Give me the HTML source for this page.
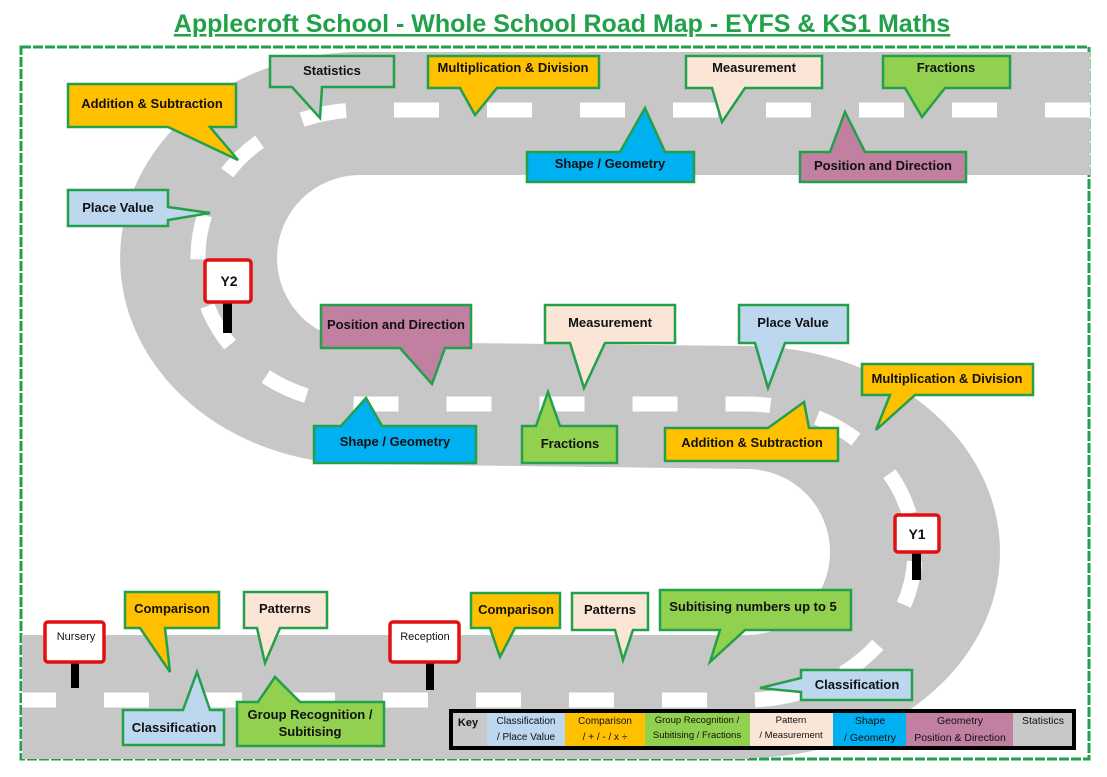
<!DOCTYPE html>
<html><head><meta charset="utf-8"><style>
html,body{margin:0;padding:0;background:#fff;}
svg{display:block;}
text{font-family:"Comic Sans MS","Liberation Sans",sans-serif;font-weight:bold;font-size:13px;fill:#111;}
</style></head><body>
<svg width="1107" height="777" viewBox="0 0 1107 777" xmlns="http://www.w3.org/2000/svg">
<text x="562" y="32" text-anchor="middle" style="font-size:25px;fill:#22a04a;text-decoration:underline">Applecroft School - Whole School Road Map - EYFS &amp; KS1 Maths</text>
<rect x="21" y="47" width="1068" height="712" fill="none" stroke="#22a04a" stroke-width="3" stroke-dasharray="10 2"/>
<!-- road -->
<g fill="#c7c7c7">
<rect x="358" y="52" width="732" height="123"/>
<path d="M360 52 A240 206 0 0 0 360 464 L360 341 A83 83 0 0 1 360 175 Z"/>
<path d="M358 342 L749 346 L749 469 L358 464 Z"/>
<path d="M747 346 A253 206 0 0 1 747 758 L747 635 A83 83 0 0 0 747 469 Z"/>
<rect x="22" y="635" width="727" height="124"/>
</g>
<path d="M1090 110 H360 A162 147 0 0 0 360 404 H747 A168 148 0 0 1 747 700 H22" fill="none" stroke="#fff" stroke-width="15" stroke-dasharray="45 48"/>
<g stroke="#22a04a" stroke-width="2.5" stroke-linejoin="miter">
<polygon fill="#c8c8c8" points="270,56 394,56 394,87 322,87 320,118 292,87 270,87"/>
<polygon fill="#ffc000" points="428,56 599,56 599,88 497,88 475,115 460,88 428,88"/>
<polygon fill="#fbe5d6" points="686,56 822,56 822,88 745,88 722,122 712,88 686,88"/>
<polygon fill="#92d050" points="883,56 1010,56 1010,88 945,88 922,117 905,88 883,88"/>
<polygon fill="#ffc000" points="68,84 236,84 236,127 210,127 238,160 168,127 68,127"/>
<polygon fill="#00b0f0" points="527,152 620,152 645,108 665,152 694,152 694,182 527,182"/>
<polygon fill="#c17fa1" points="800,152 830,152 845,112 865,152 966,152 966,182 800,182"/>
<polygon fill="#bdd7ee" points="68,190 168,190 168,207 210,213 168,220 168,226 68,226"/>
<polygon fill="#c17fa1" points="321,305 471,305 471,348 445,348 432,384 400,348 321,348"/>
<polygon fill="#fbe5d6" points="545,305 675,305 675,343 605,343 584,388 570,343 545,343"/>
<polygon fill="#bdd7ee" points="739,305 848,305 848,343 785,343 768,388 755,343 739,343"/>
<polygon fill="#ffc000" points="862,364 1033,364 1033,395 915,395 876,430 890,395 862,395"/>
<polygon fill="#00b0f0" points="314,426 341,426 366,398 382,426 476,426 476,463 314,463"/>
<polygon fill="#92d050" points="522,426 536,426 548,392 560,426 617,426 617,463 522,463"/>
<polygon fill="#ffc000" points="665,428 768,428 804,402 809,428 838,428 838,461 665,461"/>
<polygon fill="#ffc000" points="125,592 219,592 219,628 165,628 170,672 140,628 125,628"/>
<polygon fill="#fbe5d6" points="244,592 327,592 327,628 280,628 265,663 257,628 244,628"/>
<polygon fill="#ffc000" points="471,593 560,593 560,628 515,628 500,657 490,628 471,628"/>
<polygon fill="#fbe5d6" points="572,593 648,593 648,630 633,630 623,660 615,630 572,630"/>
<polygon fill="#92d050" points="660,590 851,590 851,630 745,630 710,662 720,630 660,630"/>
<polygon fill="#bdd7ee" points="801,670 912,670 912,700 801,700 801,692 760,688 801,678"/>
<polygon fill="#bdd7ee" points="123,710 183,710 197,672 210,710 224,710 224,745 123,745"/>
<polygon fill="#92d050" points="237,702 258,702 275,677 300,702 384,702 384,746 237,746"/>
</g>
<text x="332" y="75" text-anchor="middle">Statistics</text>
<text x="513" y="72" text-anchor="middle">Multiplication &amp; Division</text>
<text x="754" y="72" text-anchor="middle">Measurement</text>
<text x="946" y="72" text-anchor="middle">Fractions</text>
<text x="152" y="108" text-anchor="middle">Addition &amp; Subtraction</text>
<text x="610" y="168" text-anchor="middle">Shape / Geometry</text>
<text x="883" y="170" text-anchor="middle">Position and Direction</text>
<text x="118" y="212" text-anchor="middle">Place Value</text>
<text x="396" y="329" text-anchor="middle">Position and Direction</text>
<text x="610" y="327" text-anchor="middle">Measurement</text>
<text x="793" y="327" text-anchor="middle">Place Value</text>
<text x="947" y="383" text-anchor="middle">Multiplication &amp; Division</text>
<text x="395" y="446" text-anchor="middle">Shape / Geometry</text>
<text x="570" y="448" text-anchor="middle">Fractions</text>
<text x="752" y="447" text-anchor="middle">Addition &amp; Subtraction</text>
<text x="172" y="613" text-anchor="middle">Comparison</text>
<text x="285" y="613" text-anchor="middle">Patterns</text>
<text x="516" y="614" text-anchor="middle">Comparison</text>
<text x="610" y="614" text-anchor="middle">Patterns</text>
<text x="753" y="611" text-anchor="middle">Subitising numbers up to 5</text>
<text x="857" y="689" text-anchor="middle">Classification</text>
<text x="174" y="732" text-anchor="middle">Classification</text>
<text x="310" y="719" text-anchor="middle">Group Recognition /</text>
<text x="310" y="736" text-anchor="middle">Subitising</text>
<!-- signs -->
<g>
<rect x="223" y="300" width="9" height="33" fill="#000"/>
<rect x="205" y="260" width="46" height="42" rx="3" fill="#fff" stroke="#e01010" stroke-width="3.5"/>
<text x="229" y="286" text-anchor="middle" style="font-size:14px">Y2</text>
<rect x="912" y="550" width="9" height="30" fill="#000"/>
<rect x="895" y="515" width="44" height="37" rx="3" fill="#fff" stroke="#e01010" stroke-width="3.5"/>
<text x="917" y="539" text-anchor="middle" style="font-size:14px">Y1</text>
<rect x="71" y="660" width="8" height="28" fill="#000"/>
<rect x="45" y="622" width="59" height="40" rx="3" fill="#fff" stroke="#e01010" stroke-width="3.5"/>
<text x="76" y="640" text-anchor="middle" style="font-size:11px;font-weight:normal;font-family:'Liberation Sans',sans-serif">Nursery</text>
<rect x="426" y="660" width="8" height="30" fill="#000"/>
<rect x="390" y="622" width="69" height="40" rx="3" fill="#fff" stroke="#e01010" stroke-width="3.5"/>
<text x="425" y="640" text-anchor="middle" style="font-size:11px;font-weight:normal;font-family:'Liberation Sans',sans-serif">Reception</text>
</g>
<!-- key -->
<g>
<rect x="452" y="712" width="621" height="35" fill="#c8c8c8"/>
<rect x="487" y="712" width="78" height="35" fill="#bdd7ee"/>
<rect x="565" y="712" width="80" height="35" fill="#ffc000"/>
<rect x="645" y="712" width="105" height="35" fill="#92d050"/>
<rect x="750" y="712" width="83" height="35" fill="#fbe5d6"/>
<rect x="833" y="712" width="73" height="35" fill="#00b0f0"/>
<rect x="906" y="712" width="107" height="35" fill="#c17fa1"/>
<rect x="451" y="711" width="623" height="37" fill="none" stroke="#000" stroke-width="4"/>
<text x="468" y="726" text-anchor="middle" style="font-size:11px">Key</text>
<text x="526" y="724" text-anchor="middle" style="font-size:10px;font-weight:normal">Classification</text>
<text x="526" y="740" text-anchor="middle" style="font-size:10px;font-weight:normal">/ Place Value</text>
<text x="605" y="724" text-anchor="middle" style="font-size:10px;font-weight:normal">Comparison</text>
<text x="605" y="740" text-anchor="middle" style="font-size:10px;font-weight:normal">/ + / - / x ÷</text>
<text x="697" y="723" text-anchor="middle" style="font-size:9.5px;font-weight:normal">Group Recognition /</text>
<text x="697" y="738" text-anchor="middle" style="font-size:9.5px;font-weight:normal">Subitising / Fractions</text>
<text x="791" y="723" text-anchor="middle" style="font-size:9.5px;font-weight:normal">Pattern</text>
<text x="791" y="738" text-anchor="middle" style="font-size:9.5px;font-weight:normal">/ Measurement</text>
<text x="870" y="724" text-anchor="middle" style="font-size:10.5px;font-weight:normal">Shape</text>
<text x="870" y="741" text-anchor="middle" style="font-size:10.5px;font-weight:normal">/ Geometry</text>
<text x="960" y="724" text-anchor="middle" style="font-size:10.5px;font-weight:normal">Geometry</text>
<text x="960" y="741" text-anchor="middle" style="font-size:10.5px;font-weight:normal">Position &amp; Direction</text>
<text x="1043" y="724" text-anchor="middle" style="font-size:10.5px;font-weight:normal">Statistics</text>
</g>
</svg>
</body></html>
